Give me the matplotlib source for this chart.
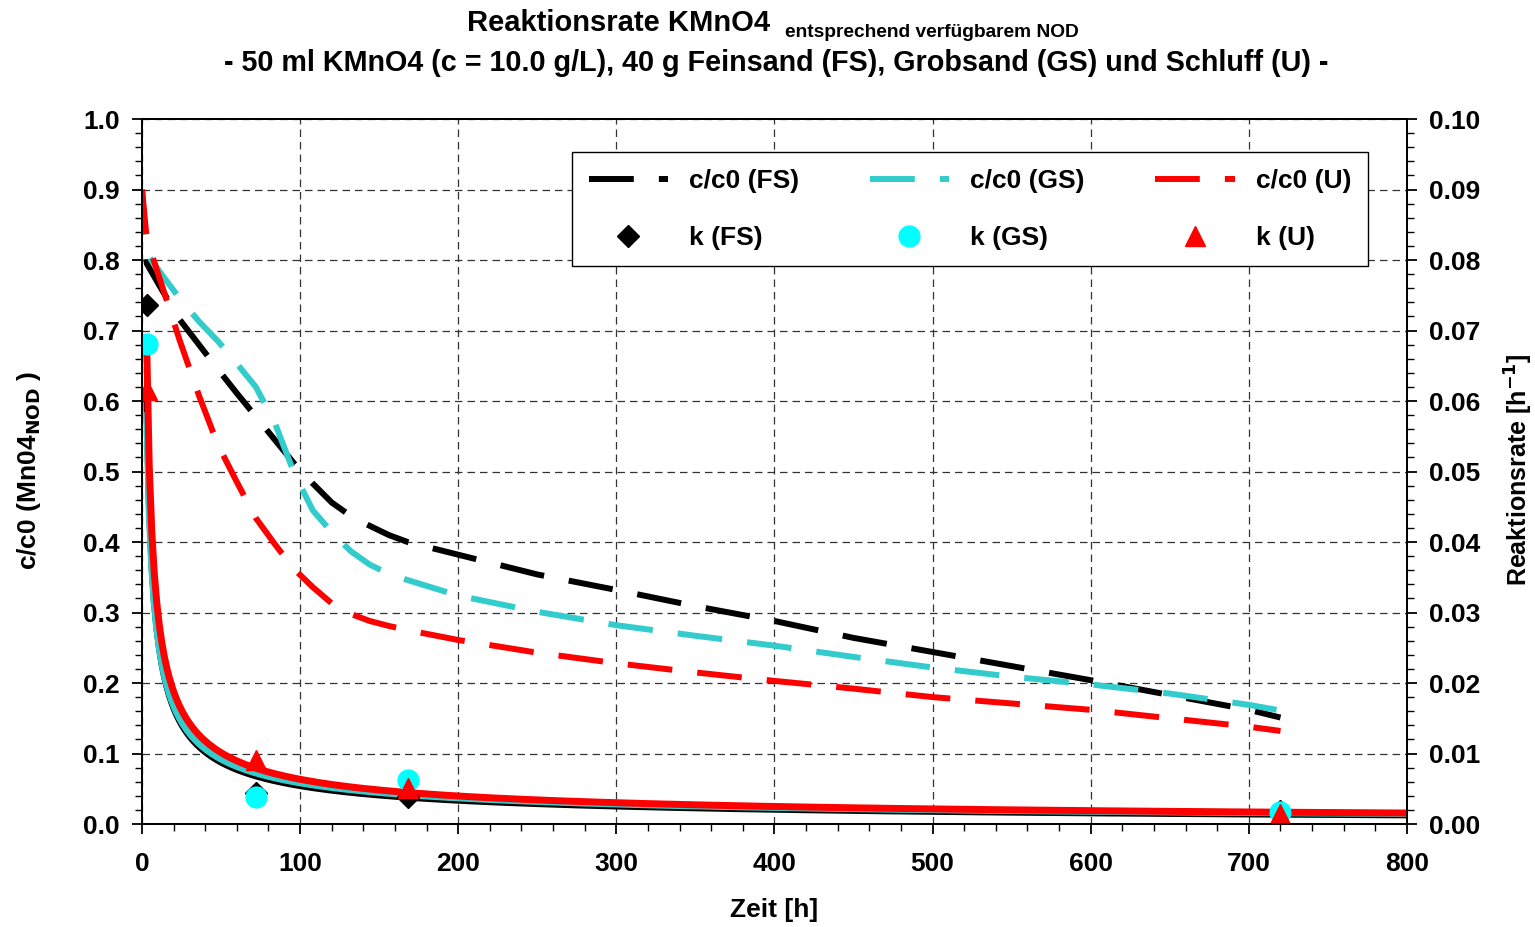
import matplotlib
matplotlib.use("Agg")
import matplotlib.pyplot as plt
import numpy as np
from matplotlib.ticker import MultipleLocator, FormatStrFormatter

plt.rcParams["font.family"] = ["Liberation Sans", "DejaVu Sans"]
plt.rcParams["font.weight"] = "bold"

# c/c0 (left axis)
t_c = [0, 3, 12, 24, 36, 48, 60, 72, 84, 96, 108, 120, 132, 144, 156, 168, 200,
       250, 300, 350, 400, 450, 500, 550, 600, 650, 700, 720]
cc0_fs = [0.90, 0.795, 0.760, 0.715, 0.680, 0.645, 0.611, 0.578, 0.545, 0.512,
          0.483, 0.456, 0.437, 0.423, 0.410, 0.400, 0.382, 0.354, 0.332, 0.309,
          0.288, 0.264, 0.244, 0.224, 0.204, 0.183, 0.162, 0.151]
cc0_gs = [0.90, 0.809, 0.781, 0.745, 0.713, 0.685, 0.653, 0.620, 0.569, 0.499,
          0.445, 0.414, 0.387, 0.368, 0.355, 0.346, 0.324, 0.301, 0.282, 0.267,
          0.253, 0.237, 0.222, 0.209, 0.198, 0.185, 0.169, 0.161]
cc0_u = [0.90, 0.830, 0.768, 0.685, 0.608, 0.538, 0.485, 0.434, 0.397, 0.362,
         0.336, 0.313, 0.298, 0.288, 0.281, 0.275, 0.261, 0.243, 0.228, 0.215,
         0.203, 0.192, 0.180, 0.171, 0.162, 0.150, 0.138, 0.132]

# reaction rate k [1/h] (right axis)
t_k = [3, 72, 168, 720]
k_fs = [0.0736, 0.0044, 0.0038, 0.0018]
k_gs = [0.0681, 0.0039, 0.0062, 0.0017]
k_u = [0.0616, 0.0091, 0.0051, 0.0014]

C_FS = "#000000"
C_GS = "#33CCCC"
C_GS_M = "#00FFFF"
C_U = "#FF0000"


def power_fit(t, k):
    # power-law trendline k = a * t^b, like the spreadsheet trendline
    b, lna = np.polyfit(np.log(t), np.log(k), 1)
    return np.exp(lna), b


fig = plt.figure(figsize=(15.35, 9.27), dpi=100)
ax = fig.add_axes([0.0925, 0.1111, 0.8241, 0.7605])
ax2 = ax.twinx()

dash = (0, (7.5, 4.2))
l_fs, = ax.plot(t_c, cc0_fs, color=C_FS, lw=4.3, ls=dash, label="c/c0 (FS)")
l_gs, = ax.plot(t_c, cc0_gs, color=C_GS, lw=4.3, ls=dash, label="c/c0 (GS)")
l_u, = ax.plot(t_c, cc0_u, color=C_U, lw=4.3, ls=dash, label="c/c0 (U)")

t_fit = np.linspace(3, 800, 500)
for k, c in [(k_fs, C_FS), (k_gs, C_GS), (k_u, C_U)]:
    a, b = power_fit(t_k, k)
    ax2.plot(t_fit, a * t_fit ** b, color=c, lw=5, solid_capstyle="butt")

m_fs, = ax2.plot(t_k, k_fs, ls="none", marker="D", ms=11, color=C_FS, label="k (FS)")
m_gs, = ax2.plot(t_k, k_gs, ls="none", marker="o", ms=15, color=C_GS_M, label="k (GS)")
m_u, = ax2.plot(t_k, k_u, ls="none", marker="^", ms=15, color=C_U, label="k (U)")

ax.set_xlim(0, 800)
ax.set_ylim(0, 1.0)
ax2.set_ylim(0, 0.10)

ax.xaxis.set_major_locator(MultipleLocator(100))
ax.xaxis.set_minor_locator(MultipleLocator(20))
ax.yaxis.set_major_locator(MultipleLocator(0.1))
ax.yaxis.set_minor_locator(MultipleLocator(0.02))
ax.yaxis.set_major_formatter(FormatStrFormatter("%.1f"))
ax2.yaxis.set_major_locator(MultipleLocator(0.01))
ax2.yaxis.set_minor_locator(MultipleLocator(0.002))
ax2.yaxis.set_major_formatter(FormatStrFormatter("%.2f"))

ax.grid(True, which="major", color="#333333", lw=0.9, ls=(0, (6, 4)))

for a_ in (ax, ax2):
    a_.tick_params(which="major", direction="out", length=7, width=1.3, labelsize=19, pad=9)
    a_.tick_params(which="minor", direction="out", length=5, width=1.0)
    for s in a_.spines.values():
        s.set_linewidth(1.3)
ax.tick_params(axis="x", pad=13)

ax.set_xlabel("Zeit [h]", fontsize=19, fontweight="bold")
ax.xaxis.set_label_coords(0.5, -0.105)
ax.set_ylabel("c/c0 (Mn04$_{\\mathbf{NOD}}$ )", fontsize=19, fontweight="bold")
ax.yaxis.set_label_coords(-0.078, 0.502)
ax2.set_ylabel("Reaktionsrate [h$^{\\mathbf{-1}}$]", fontsize=18, fontweight="bold")
ax2.yaxis.set_label_coords(1.076, 0.502)

leg = ax2.legend([l_fs, m_fs, l_gs, m_gs, l_u, m_u],
                 ["c/c0 (FS)", "k (FS)", "c/c0 (GS)", "k (GS)", "c/c0 (U)", "k (U)"],
                 ncol=3, loc="upper left", bbox_to_anchor=(0.340, 0.953, 0.629, 0.0),
                 mode="expand", borderaxespad=0, fontsize=19, handlelength=3.0,
                 labelspacing=1.25, borderpad=0.63, fancybox=False, framealpha=1,
                 edgecolor="black")
leg.get_frame().set_linewidth(1.0)

fig.text(0.5016, 0.9666, "Reaktionsrate KMnO4", ha="right", va="baseline",
         fontsize=21, fontweight="bold")
fig.text(0.5114, 0.960, "entsprechend verfügbarem NOD", ha="left", va="baseline",
         fontsize=13.8, fontweight="bold")
fig.text(0.5055, 0.9234,
         "- 50 ml KMnO4 (c = 10.0 g/L), 40 g Feinsand (FS), Grobsand (GS) und Schluff (U) -",
         ha="center", va="baseline", fontsize=20.7, fontweight="bold")

fig.savefig("out.png", dpi=100)
